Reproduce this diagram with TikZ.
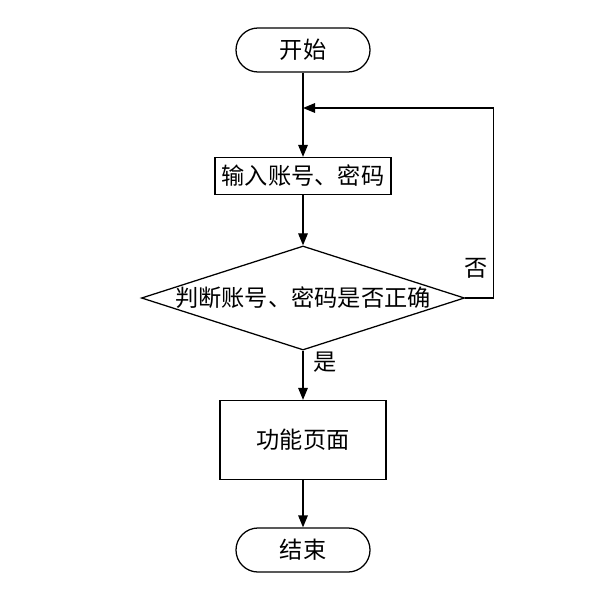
\documentclass[tikz,border=0pt]{standalone}
\usepackage{fontspec}
\newfontfamily\cjk{Noto Sans CJK SC}
\usepackage{tikz}
\usetikzlibrary{shapes.geometric, arrows.meta}

\tikzset{
    flow/.style={line width=0.9pt, -{Triangle[length=3mm, width=2.4mm]}},
    terminal/.style={draw, line width=0.9pt, rounded corners=0.55cm,
        minimum width=3.35cm, minimum height=1.1cm, font=\cjk\fontsize{16.5}{19}\selectfont},
    process/.style={draw, line width=0.9pt, inner sep=2pt, font=\cjk\fontsize{16.5}{19}\selectfont},
    decision/.style={draw, diamond, line width=0.9pt, inner sep=0pt, aspect=3.1,
        minimum width=8.075cm, minimum height=2.6cm, font=\cjk\fontsize{16.5}{19}\selectfont},
    branch/.style={inner sep=0pt, font=\cjk\fontsize{16.5}{19}\selectfont}
}

\begin{document}
\begin{tikzpicture}[x=0.025cm, y=-0.025cm]
    \useasboundingbox (0,0) rectangle (615,592);

    % Draw nodes
    \node[terminal] (begin) at (303,50) {开始};
    \node[process, minimum width=4.4cm, minimum height=0.925cm] (input) at (303,176) {输入账号、密码};
    \node[decision] (check) at (303,298) {判断账号、密码是否正确};
    \node[process, minimum width=4.15cm, minimum height=1.975cm] (page) at (303,440) {功能页面};
    \node[terminal] (stop) at (303,550) {结束};

    % Branch labels
    \node[branch] (no) at (476,268) {否};
    \node[branch] (yes) at (325,362) {是};

    % Draw arrows
    \coordinate (join) at (303,108);
    \draw[flow] (begin) -- (input);
    \draw[flow] (input) -- (check);
    \draw[flow] (check) -- (page);
    \draw[flow] (page) -- (stop);
    \draw[flow] (check.east) -- ++(28,0) |- (join);
\end{tikzpicture}
\end{document}
